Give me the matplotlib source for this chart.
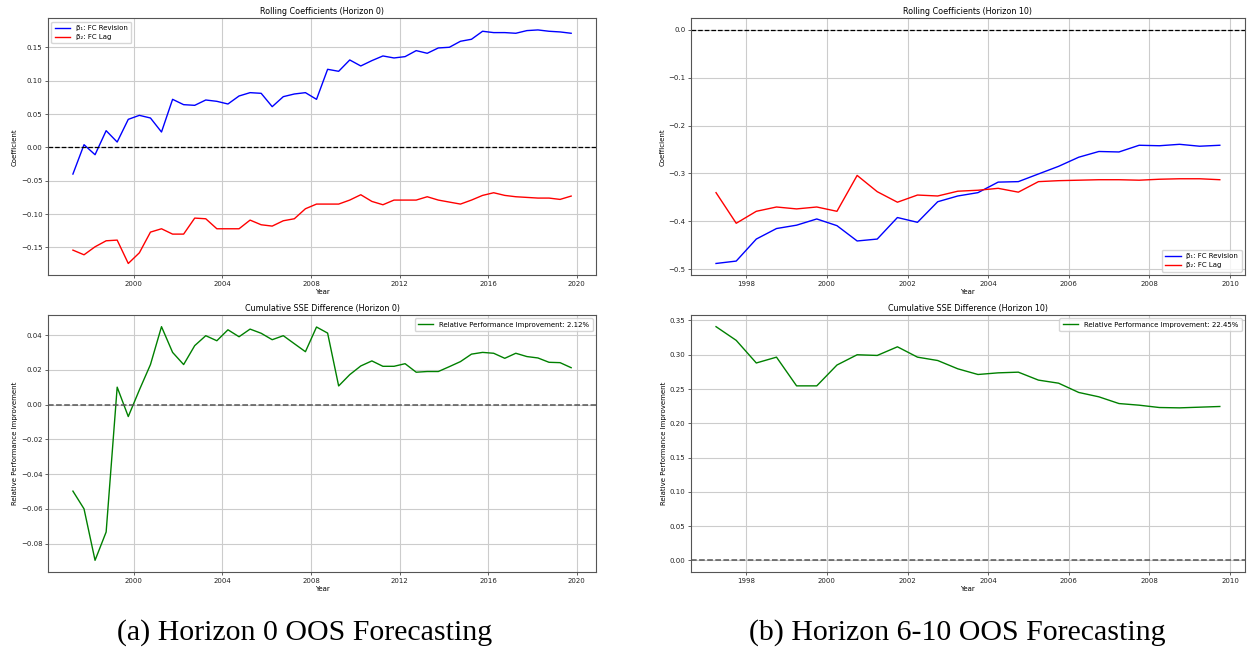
import matplotlib
matplotlib.use("Agg")
import matplotlib.pyplot as plt
import matplotlib.dates as mdates
import pandas as pd

# Semi-annual evaluation dates
dates_h0 = pd.date_range("1997-04-01", "2019-10-01", freq="6MS")
dates_h10 = pd.date_range("1997-04-01", "2009-10-01", freq="6MS")

# Horizon 0 rolling coefficients
beta1_h0 = [-0.040, 0.004, -0.011, 0.025, 0.008, 0.042, 0.048, 0.044, 0.023, 0.072,
            0.064, 0.063, 0.071, 0.069, 0.065, 0.077, 0.082, 0.081, 0.061, 0.076,
            0.080, 0.082, 0.072, 0.117, 0.114, 0.131, 0.122, 0.130, 0.137, 0.134,
            0.136, 0.145, 0.141, 0.149, 0.150, 0.159, 0.162, 0.174, 0.172, 0.172,
            0.171, 0.175, 0.176, 0.174, 0.173, 0.171]
beta2_h0 = [-0.154, -0.161, -0.149, -0.140, -0.139, -0.174, -0.158, -0.127, -0.122, -0.130,
            -0.130, -0.106, -0.107, -0.122, -0.122, -0.122, -0.109, -0.116, -0.118, -0.110,
            -0.107, -0.092, -0.085, -0.085, -0.085, -0.079, -0.071, -0.081, -0.086, -0.079,
            -0.079, -0.079, -0.074, -0.079, -0.082, -0.085, -0.079, -0.072, -0.068, -0.072,
            -0.074, -0.075, -0.076, -0.076, -0.078, -0.073]

# Horizon 0 cumulative SSE improvement
sse_h0 = [-0.0498, -0.0600, -0.0896, -0.0733, 0.0100, -0.0069, 0.0084, 0.0230, 0.0448, 0.0300,
          0.0230, 0.0339, 0.0396, 0.0367, 0.0430, 0.0390, 0.0434, 0.0410, 0.0373, 0.0396,
          0.0350, 0.0304, 0.0446, 0.0411, 0.0107, 0.0172, 0.0222, 0.0251, 0.0220, 0.0220,
          0.0235, 0.0186, 0.0190, 0.0190, 0.0218, 0.0247, 0.0290, 0.0300, 0.0295, 0.0266,
          0.0295, 0.0276, 0.0268, 0.0243, 0.0241, 0.0212]

# Horizon 10 rolling coefficients
beta1_h10 = [-0.488, -0.483, -0.437, -0.415, -0.408, -0.395, -0.409, -0.441, -0.437, -0.392,
             -0.402, -0.359, -0.347, -0.340, -0.318, -0.317, -0.301, -0.285, -0.266, -0.254,
             -0.255, -0.241, -0.242, -0.239, -0.243, -0.241]
beta2_h10 = [-0.340, -0.404, -0.379, -0.370, -0.374, -0.370, -0.379, -0.304, -0.338, -0.360,
             -0.345, -0.347, -0.337, -0.335, -0.331, -0.339, -0.317, -0.315, -0.314, -0.313,
             -0.313, -0.314, -0.312, -0.311, -0.311, -0.313]

# Horizon 10 cumulative SSE improvement
sse_h10 = [0.341, 0.321, 0.288, 0.2965, 0.2546, 0.2546, 0.285, 0.300, 0.299, 0.3116,
           0.2965, 0.2916, 0.2795, 0.2712, 0.2736, 0.2746, 0.263, 0.2585, 0.245, 0.2386,
           0.2288, 0.2264, 0.223, 0.2225, 0.2235, 0.2245]

captions = ["(a) Horizon 0 OOS Forecasting", "(b) Horizon 6-10 OOS Forecasting"]

SMALL = 5.0
TITLE = 5.8

fig = plt.figure(figsize=(12.47, 6.52), dpi=100)

lx0, lx1 = 0.0385, 0.478
rx0, rx1 = 0.554, 0.9984
ty0, ty1 = 0.578, 0.972
by0, by1 = 0.1227, 0.5169

ax_tl = fig.add_axes([lx0, ty0, lx1 - lx0, ty1 - ty0])
ax_bl = fig.add_axes([lx0, by0, lx1 - lx0, by1 - by0])
ax_tr = fig.add_axes([rx0, ty0, rx1 - rx0, ty1 - ty0])
ax_br = fig.add_axes([rx0, by0, rx1 - rx0, by1 - by0])


def style(ax, step):
    ax.grid(True, color="#cccccc", linewidth=0.8)
    ax.set_axisbelow(True)
    ax.xaxis.set_major_locator(mdates.YearLocator(step))
    ax.xaxis.set_major_formatter(mdates.DateFormatter("%Y"))
    ax.tick_params(labelsize=SMALL, length=2, width=0.5, pad=2, colors="#222222")
    for sp in ax.spines.values():
        sp.set_linewidth(0.8)
        sp.set_color("#555555")
    ax.set_xlabel("Year", fontsize=SMALL, labelpad=1.5)


def coef_panel(ax, dates, b1, b2, horizon, loc, step):
    ax.plot(dates, b1, color="blue", linewidth=1.0, label="β\u2081: FC Revision")
    ax.plot(dates, b2, color="red", linewidth=1.0, label="β\u2082: FC Lag")
    ax.axhline(0, color="black", linestyle="--", linewidth=0.9)
    ax.set_title(f"Rolling Coefficients (Horizon {horizon})", fontsize=TITLE, pad=3)
    ax.set_ylabel("Coefficient", fontsize=SMALL, labelpad=2)
    ax.legend(loc=loc, fontsize=SMALL, handlelength=2.2, borderpad=0.5, labelspacing=0.4)
    style(ax, step)


def sse_panel(ax, dates, vals, horizon, step):
    ax.plot(dates, vals, color="green", linewidth=1.0,
            label=f"Relative Performance Improvement: {vals[-1] * 100:.2f}%")
    ax.axhline(0, color="#555555", linestyle="--", linewidth=1.1)
    ax.set_title(f"Cumulative SSE Difference (Horizon {horizon})", fontsize=TITLE, pad=3)
    ax.set_ylabel("Relative Performance Improvement", fontsize=SMALL, labelpad=2)
    ax.legend(loc="upper right", fontsize=SMALL, handlelength=2.2, borderpad=0.5)
    style(ax, step)


coef_panel(ax_tl, dates_h0, beta1_h0, beta2_h0, 0, "upper left", 4)
sse_panel(ax_bl, dates_h0, sse_h0, 0, 4)
coef_panel(ax_tr, dates_h10, beta1_h10, beta2_h10, 10, "lower right", 2)
sse_panel(ax_br, dates_h10, sse_h10, 10, 2)

fig.text(0.2445, 0.030, captions[0], ha="center", va="center",
         fontsize=21.5, family="Liberation Serif")
fig.text(0.768, 0.030, captions[1], ha="center", va="center",
         fontsize=21.5, family="Liberation Serif")

fig.savefig("out.png", dpi=100)
